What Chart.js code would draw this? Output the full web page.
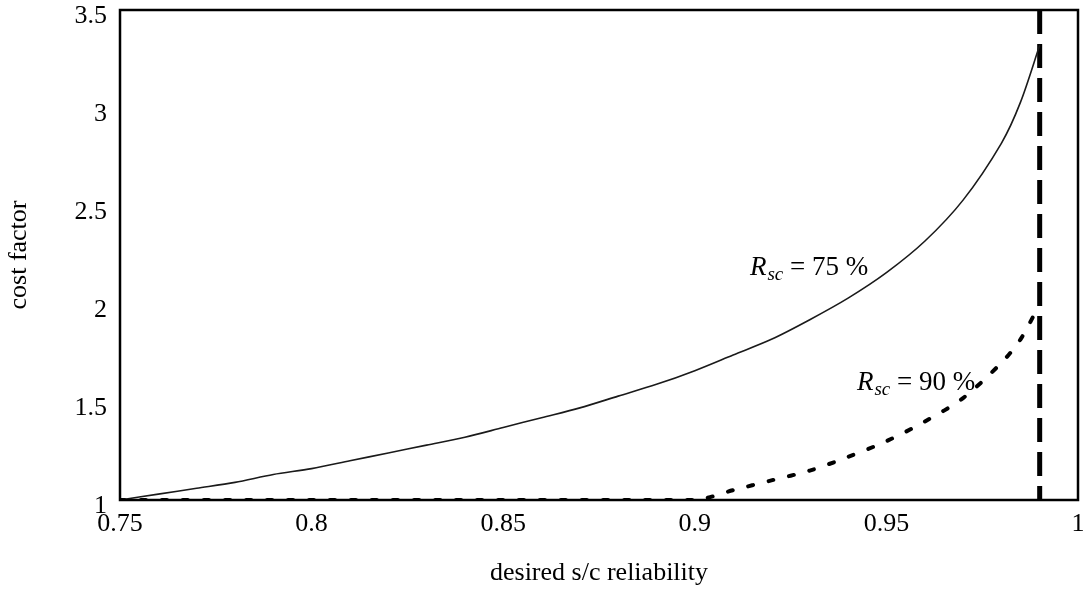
<!DOCTYPE html>
<html>
<head>
<meta charset="utf-8">
<script src="https://cdn.jsdelivr.net/npm/chart.js@4/dist/chart.umd.min.js"></script>
<style>
  html, body { margin: 0; padding: 0; background: #ffffff; }
  #wrap { width: 1090px; height: 592px; }
</style>
</head>
<body>
<div id="wrap"><canvas id="c" width="1090" height="592"></canvas></div>
<script>
// ---- data ----
const reliability75 = [0.75, 0.76, 0.77, 0.78, 0.79, 0.80, 0.81, 0.82, 0.83, 0.84, 0.85, 0.86, 0.87, 0.88, 0.89, 0.90, 0.91, 0.92, 0.93, 0.94, 0.95, 0.96, 0.97, 0.98, 0.985, 0.99];
const cost75 =        [1.00, 1.03, 1.06, 1.09, 1.13, 1.16, 1.20, 1.24, 1.28, 1.32, 1.37, 1.42, 1.47, 1.53, 1.59, 1.66, 1.74, 1.82, 1.92, 2.03, 2.16, 2.32, 2.53, 2.82, 3.03, 3.32];
const reliability90 = [0.75, 0.80, 0.85, 0.90, 0.91, 0.92, 0.93, 0.94, 0.95, 0.96, 0.97, 0.98, 0.985, 0.99];
const cost90 =        [1.00, 1.00, 1.00, 1.00, 1.05, 1.10, 1.15, 1.22, 1.30, 1.40, 1.52, 1.70, 1.82, 2.00];
const limitX = [0.99, 0.99];
const limitY = [3.5, 1.0];
const xTickLabels = ["0.75", "0.8", "0.85", "0.9", "0.95", "1"];
const yTickLabels = ["1", "1.5", "2", "2.5", "3", "3.5"];
const curveLabels = ["75 %", "90 %"];
const curveLabelX = [0.9144, 0.9423];
const curveLabelY = [2.148, 1.561];

const pts = (xs, ys) => xs.map((x, i) => ({ x: x, y: ys[i] }));
const SERIF = '"Liberation Serif", "Times New Roman", serif';

const frame = {
  id: 'frame',
  afterDatasetsDraw(chart) {
    const a = chart.chartArea, ctx = chart.ctx;
    ctx.save();
    ctx.strokeStyle = '#000';
    ctx.lineWidth = 2.5;
    ctx.strokeRect(a.left, a.top, a.right - a.left, a.bottom - a.top);
    ctx.restore();
  }
};

const curveText = {
  id: 'curveText',
  afterDatasetsDraw(chart) {
    const ctx = chart.ctx, xs = chart.scales.x, ys = chart.scales.y;
    ctx.save();
    ctx.fillStyle = '#000';
    ctx.textBaseline = 'alphabetic';
    ctx.textAlign = 'left';
    curveLabels.forEach((t, i) => {
      let px = xs.getPixelForValue(curveLabelX[i]);
      const py = ys.getPixelForValue(curveLabelY[i]);
      ctx.font = 'italic 27px ' + SERIF;
      ctx.fillText('R', px, py);
      px += ctx.measureText('R').width + 1;
      ctx.font = 'italic 19px ' + SERIF;
      ctx.fillText('sc', px, py + 5);
      px += ctx.measureText('sc').width;
      ctx.font = '27px ' + SERIF;
      ctx.fillText(' = ' + t, px, py);
    });
    ctx.restore();
  }
};

new Chart(document.getElementById('c'), {
  type: 'scatter',
  data: {
    datasets: [
      {
        label: 'Rsc = 75 %',
        data: pts(reliability75, cost75),
        showLine: true,
        borderColor: '#1a1a1a',
        borderWidth: 1.6,
        pointRadius: 0,
        tension: 0.3
      },
      {
        label: 'Rsc = 90 %',
        data: pts(reliability90, cost90),
        showLine: true,
        borderColor: '#000',
        borderWidth: 4,
        borderDash: [5, 16],
        borderCapStyle: 'round',
        pointRadius: 0,
        tension: 0.3
      },
      {
        label: 'limit',
        data: pts(limitX, limitY),
        showLine: true,
        borderColor: '#000',
        borderWidth: 5,
        borderDash: [24, 10],
        pointRadius: 0
      }
    ]
  },
  options: {
    responsive: false,
    animation: false,
    layout: { padding: { left: 0, top: 10, right: 12, bottom: 0 } },
    plugins: {
      legend: { display: false },
      tooltip: { enabled: false }
    },
    scales: {
      x: {
        type: 'linear',
        min: 0.75, max: 1,
        afterFit(s) { s.height = 92; s.paddingLeft = 0; s.paddingRight = 0; },
        afterBuildTicks(s) { s.ticks = xTickLabels.map(v => ({ value: parseFloat(v) })); },
        grid: { display: false, drawTicks: false },
        border: { display: false },
        ticks: {
          color: '#000',
          padding: 9,
          maxRotation: 0,
          autoSkip: false,
          font: { family: SERIF, size: 26 },
          callback: (v, i) => xTickLabels[i]
        },
        title: {
          display: true,
          text: 'desired s/c reliability',
          color: '#000',
          font: { family: SERIF, size: 26 },
          padding: { top: 0, bottom: 3 }
        }
      },
      y: {
        type: 'linear',
        min: 1, max: 3.5,
        afterFit(s) { s.width = 120; s.paddingTop = 0; s.paddingBottom = 0; },
        afterBuildTicks(s) { s.ticks = yTickLabels.map(v => ({ value: parseFloat(v) })); },
        grid: { display: false, drawTicks: false },
        border: { display: false },
        ticks: {
          color: '#000',
          padding: 13,
          labelOffset: 6,
          autoSkip: false,
          font: { family: SERIF, size: 26 },
          callback: (v, i) => yTickLabels[i]
        },
        title: {
          display: true,
          text: 'cost factor',
          color: '#000',
          font: { family: SERIF, size: 26 },
          padding: { top: 4, bottom: 0 }
        }
      }
    }
  },
  plugins: [frame, curveText]
});
</script>
</body>
</html>
